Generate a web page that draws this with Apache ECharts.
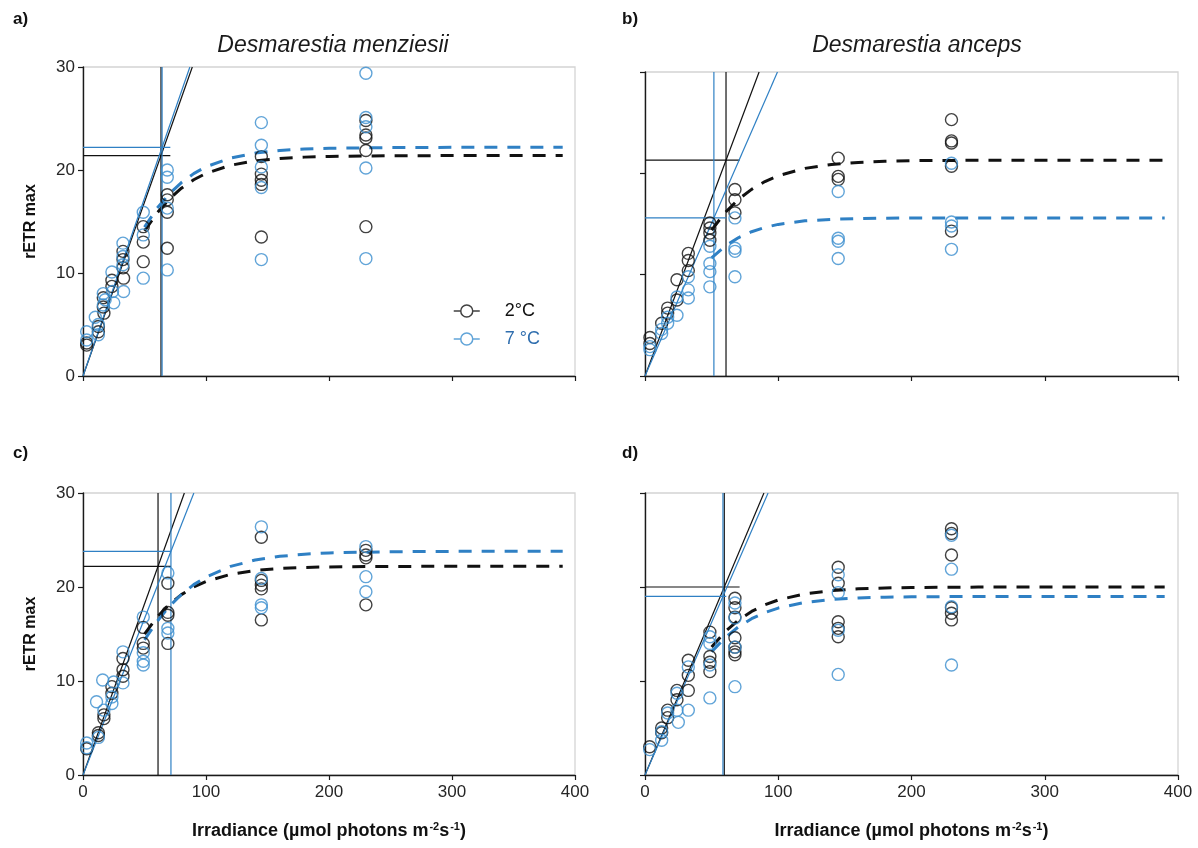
<!DOCTYPE html>
<html>
<head>
<meta charset="utf-8">
<title>rETR max – Desmarestia</title>
<script src="https://cdn.jsdelivr.net/npm/echarts@6/dist/echarts.min.js"></script>
<style>
  html, body { margin: 0; padding: 0; background: #fff; }
  #chart { width: 1198px; height: 848px; }
</style>
</head>
<body>
<div id="chart"></div>
<script>
// ---- Measured rETR values: [irradiance, rETR] ----
const menziesiiA_2C = [[3,3.2],[3,3.0],[12.5,4.8],[12.5,4.3],[16.5,7.6],[16.5,6.7],[17,6.1],[23.5,9.3],[23.5,8.7],[32.5,12.1],[32.5,11.3],[32.5,10.5],[33,9.5],[49,14.5],[49,13.0],[49,11.1],[68.5,17.6],[68.5,17.1],[68.5,15.9],[68.5,12.4],[145,21.3],[145,19.6],[145,19.0],[145,18.6],[145,13.5],[230,24.8],[230,23.4],[230,23.1],[230,21.9],[230,14.5]];
const menziesiiA_7C = [[3,4.3],[3,3.5],[10,5.7],[12.5,5.0],[12.5,4.0],[16.5,8.0],[16.5,6.9],[18,7.4],[23.5,10.1],[24,8.2],[25,7.1],[32.5,12.9],[32.5,11.6],[32.5,10.8],[33,8.2],[49,15.9],[49,13.7],[49,9.5],[68.5,20.0],[68.5,19.3],[68.5,16.3],[68.5,10.3],[145,24.6],[145,22.4],[145,20.3],[145,18.3],[145,11.3],[230,29.4],[230,25.1],[230,24.2],[230,20.2],[230,11.4]];

const ancepsB_2C = [[3.7,3.8],[3.7,3.2],[12.5,5.2],[17,6.7],[17,6.2],[24,9.5],[24,7.5],[32.5,12.1],[32.5,11.4],[32.5,10.4],[48.7,15.1],[48.7,14.6],[48.7,14.1],[48.7,13.4],[67.5,18.4],[67.5,17.4],[67.5,16.1],[145,21.5],[145,19.7],[145,19.4],[230,25.3],[230,23.2],[230,23.0],[230,20.7],[230,14.3]];
const ancepsB_7C = [[3.7,2.9],[3.7,2.6],[12.5,4.2],[12.5,4.6],[17,5.8],[17,5.2],[24,7.8],[24,6.0],[32.5,9.8],[32.5,8.5],[32.5,7.7],[48.7,12.8],[48.7,11.1],[48.7,10.3],[48.7,8.8],[67.5,15.6],[67.5,12.6],[67.5,12.3],[67.5,9.8],[145,18.2],[145,13.6],[145,13.3],[145,11.6],[230,21.0],[230,15.2],[230,14.8],[230,12.5]];

const menziesiiC_2C = [[3,2.8],[12.5,4.5],[12.5,4.2],[17,6.4],[17,6.0],[23.5,9.4],[23.5,8.7],[32.5,12.4],[32.5,11.2],[32.5,10.5],[49,15.7],[49,14.0],[49,13.5],[69,20.4],[69,17.3],[69,17.0],[69,14.0],[145,25.3],[145,20.7],[145,20.2],[145,19.8],[145,16.5],[230,23.9],[230,23.4],[230,23.1],[230,18.1]];
const menziesiiC_7C = [[3,3.4],[3,2.9],[11,7.8],[16,10.1],[12.5,4.0],[17,6.9],[23.5,8.3],[23.5,7.6],[25,9.9],[32.5,13.1],[32.5,9.8],[49,16.8],[49,13.0],[49,12.1],[49,11.7],[69,21.5],[69,15.6],[69,15.1],[145,26.4],[145,20.9],[145,18.1],[145,17.8],[230,24.3],[230,21.1],[230,19.5]];

const ancepsD_2C = [[3.5,3.0],[12.5,5.0],[12.5,4.5],[17,6.9],[17,6.1],[24,9.0],[24,8.0],[32.5,12.2],[32.5,10.6],[32.5,9.0],[48.7,15.2],[48.7,12.6],[48.7,12.0],[48.7,11.0],[67.5,18.8],[67.5,17.8],[67.5,16.8],[67.5,14.6],[67.5,13.6],[67.5,13.1],[67.5,12.8],[145,22.1],[145,20.4],[145,16.3],[145,15.6],[145,14.7],[230,26.2],[230,25.7],[230,23.4],[230,17.8],[230,17.2],[230,16.5]];
const ancepsD_7C = [[3.5,2.7],[12.5,4.6],[12.5,3.7],[17,6.6],[24,8.7],[24,6.9],[25,5.6],[32.5,11.5],[32.5,6.9],[48.7,14.7],[48.7,14.0],[48.7,11.7],[48.7,8.2],[67.5,18.3],[67.5,16.7],[67.5,13.6],[67.5,9.4],[145,21.3],[145,19.4],[145,15.4],[145,10.7],[230,25.5],[230,21.9],[230,17.9],[230,11.7]];

// ---- Fitted P–E curves, sampled along the irradiance axis ----
const curveX = [50,60,70,80,90,100,120,140,160,180,200,250,300,350,390];
const curveA_2C = [14.08,15.81,17.16,18.23,19.05,19.67,20.46,20.89,21.12,21.25,21.32,21.38,21.4,21.4,21.4];
const curveA_7C = [14.45,16.25,17.67,18.78,19.65,20.31,21.16,21.64,21.90,22.04,22.11,22.18,22.2,22.2,22.2];
const curveB_2C = [14.40,16.11,17.42,18.42,19.19,19.76,20.49,20.88,21.08,21.19,21.25,21.29,21.3,21.3,21.3];
const curveB_7C = [11.66,12.81,13.64,14.24,14.67,14.96,15.31,15.46,15.53,15.57,15.6,15.6,15.6,15.6,15.6];
const curveC_2C = [14.99,16.76,18.14,19.19,20.00,20.59,21.35,21.76,21.97,22.08,22.14,22.19,22.2,22.2,22.2];
const curveC_7C = [14.37,16.30,17.91,19.20,20.25,21.06,22.19,22.87,23.26,23.49,23.63,23.75,23.79,23.8,23.8];
const curveD_2C = [13.63,15.22,16.46,17.40,18.10,18.62,19.28,19.62,19.81,19.90,19.95,19.99,20,20,20];
const curveD_7C = [13.11,14.59,15.75,16.63,17.29,17.76,18.36,18.67,18.83,18.92,18.96,18.99,19,19,19];

// ---- Fit parameters: Ek, rETR max and the reach of the rETR max marker ----
const fitA_2C = { ek: 63.4, pmax: 21.4, reach: 71 };
const fitA_7C = { ek: 64.3, pmax: 22.2, reach: 71 };
const fitB_2C = { ek: 60.8, pmax: 21.3, reach: 71 };
const fitB_7C = { ek: 51.7, pmax: 15.6, reach: 61 };
const fitC_2C = { ek: 61.0, pmax: 22.2, reach: 71.5 };
const fitC_7C = { ek: 71.5, pmax: 23.8, reach: 71.5 };
const fitD_2C = { ek: 59.5, pmax: 20.0, reach: 71 };
const fitD_7C = { ek: 58.5, pmax: 19.0, reach: 61 };

// ---- Axis ranges and labels ----
const xRange = { min: 0, max: 400, interval: 100 };
const yRange = { min: 0, max: 30, interval: 10 };
const panelTags = ['a)', 'b)', 'c)', 'd)'];
const speciesNames = ['Desmarestia menziesii', 'Desmarestia anceps'];
const tempNames = ['2°C', '7 °C'];
const yAxisTitle = 'rETR max';

// ---- Styling ----
const FONT = '"Liberation Sans", Arial, sans-serif';
const BLACK = '#111111';
const BLUE = '#3a8dce';
const BLUE_LINE = '#2f80c4';
const BLUE_TEXT = '#2f6eae';

const panels = [
  { grid: { left: 83, top: 67, width: 492, height: 309 }, pts: [menziesiiA_2C, menziesiiA_7C], curves: [curveA_2C, curveA_7C], fits: [fitA_2C, fitA_7C], yLabels: true, xLabels: false },
  { grid: { left: 645, top: 72, width: 533, height: 304 }, pts: [ancepsB_2C, ancepsB_7C], curves: [curveB_2C, curveB_7C], fits: [fitB_2C, fitB_7C], yLabels: false, xLabels: false },
  { grid: { left: 83, top: 493, width: 492, height: 282 }, pts: [menziesiiC_2C, menziesiiC_7C], curves: [curveC_2C, curveC_7C], fits: [fitC_2C, fitC_7C], yLabels: true, xLabels: true },
  { grid: { left: 645, top: 493, width: 533, height: 282 }, pts: [ancepsD_2C, ancepsD_7C], curves: [curveD_2C, curveD_7C], fits: [fitD_2C, fitD_7C], yLabels: false, xLabels: true }
];

const grids = [], xAxes = [], yAxes = [], series = [];

panels.forEach((p, i) => {
  grids.push(Object.assign({ show: true, borderColor: '#d4d4d4', borderWidth: 1.3, backgroundColor: 'transparent', containLabel: false }, p.grid));

  xAxes.push({
    type: 'value', gridIndex: i, min: xRange.min, max: xRange.max, interval: xRange.interval,
    axisLine: { show: true, onZero: false, lineStyle: { color: '#1a1a1a', width: 1.4 } },
    axisTick: { show: true, length: 5, lineStyle: { color: '#1a1a1a', width: 1.2 } },
    axisLabel: { show: p.xLabels, fontSize: 17, color: '#262626', fontFamily: FONT, margin: 9 },
    splitLine: { show: false },
    name: p.xLabels ? '{t|Irradiance (µmol photons m}{s|-2}{t|s}{s|-1}{t|)}' : '',
    nameLocation: 'middle', nameGap: 46,
    nameTextStyle: {
      rich: {
        t: { fontSize: 18, fontWeight: 'bold', color: '#111', fontFamily: FONT },
        s: { fontSize: 11, fontWeight: 'bold', color: '#111', fontFamily: FONT, padding: [0, 0, 10, 1] }
      }
    }
  });

  yAxes.push({
    type: 'value', gridIndex: i, min: yRange.min, max: yRange.max, interval: yRange.interval,
    axisLine: { show: true, onZero: false, lineStyle: { color: '#1a1a1a', width: 1.4 } },
    axisTick: { show: true, length: 5, lineStyle: { color: '#1a1a1a', width: 1.2 } },
    axisLabel: { show: p.yLabels, fontSize: 17, color: '#262626', fontFamily: FONT, margin: 8 },
    splitLine: { show: false },
    name: p.yLabels ? yAxisTitle : '',
    nameLocation: 'middle', nameGap: 44, nameRotate: 90,
    nameTextStyle: { fontSize: 16, fontWeight: 'bold', color: '#111', fontFamily: FONT }
  });

  [0, 1].forEach(t => {
    const dotColor = t === 0 ? BLACK : BLUE;
    const lineColor = t === 0 ? BLACK : BLUE_LINE;
    const fit = p.fits[t];

    // Initial-slope line through the origin, extended to the top of the axis
    const slope = fit.pmax / fit.ek;
    const topX = yRange.max / slope;
    const thin = { color: lineColor, width: 1.2 };
    const guide = (data) => ({
      type: 'line', xAxisIndex: i, yAxisIndex: i, data, showSymbol: false, symbol: 'none',
      lineStyle: thin, silent: true, z: 2, animation: false
    });
    series.push(guide([[0, 0], [topX, yRange.max]]));
    series.push(guide([[0, fit.pmax], [fit.reach, fit.pmax]]));
    series.push(guide([[fit.ek, yRange.min], [fit.ek, yRange.max]]));

    // Fitted curve (dashed)
    series.push({
      type: 'line', xAxisIndex: i, yAxisIndex: i,
      data: curveX.map((x, k) => [x, p.curves[t][k]]),
      showSymbol: false, symbol: 'none', smooth: false,
      lineStyle: { color: lineColor, width: 3, type: [13, 10] },
      silent: true, z: 3, animation: false
    });

    // Measured points (hollow circles)
    series.push({
      name: tempNames[t], type: 'scatter', xAxisIndex: i, yAxisIndex: i,
      data: p.pts[t], symbol: 'circle', symbolSize: 12,
      itemStyle: { color: 'rgba(255,255,255,0)', borderColor: dotColor, borderWidth: 1.4 },
      z: 4, animation: false
    });
  });
});

const titles = [
  { text: panelTags[0], left: 8, top: 6 },
  { text: panelTags[1], left: 617, top: 6 },
  { text: panelTags[2], left: 8, top: 440 },
  { text: panelTags[3], left: 617, top: 440 }
].map(o => Object.assign(o, { textStyle: { fontSize: 17, fontWeight: 'bold', color: '#111', fontFamily: FONT } }));

titles.push({ text: speciesNames[0], left: 328, top: 29, textAlign: 'center',
  textStyle: { fontSize: 23, fontStyle: 'italic', fontWeight: 'normal', color: '#1a1a1a', fontFamily: FONT } });
titles.push({ text: speciesNames[1], left: 912, top: 29, textAlign: 'center',
  textStyle: { fontSize: 23, fontStyle: 'italic', fontWeight: 'normal', color: '#1a1a1a', fontFamily: FONT } });

const option = {
  animation: false,
  backgroundColor: '#ffffff',
  title: titles,
  grid: grids,
  xAxis: xAxes,
  yAxis: yAxes,
  legend: {
    orient: 'vertical', left: 448, top: 297, itemWidth: 26, itemHeight: 12, itemGap: 10,
    selectedMode: false,
    icon: 'path://M0,6L7,6M19,6L26,6M19,6A6,6,0,1,1,7,6A6,6,0,1,1,19,6',
    itemStyle: { color: 'rgba(255,255,255,0)', borderWidth: 1.5 },
    textStyle: { fontSize: 18, fontFamily: FONT, padding: [0, 0, 0, 20] },
    data: [
      { name: tempNames[0], textStyle: { color: '#111' } },
      { name: tempNames[1], textStyle: { color: BLUE_TEXT } }
    ]
  },
  series: series
};

const chart = echarts.init(document.getElementById('chart'), null, { renderer: 'canvas' });
chart.setOption(option);
</script>
</body>
</html>
